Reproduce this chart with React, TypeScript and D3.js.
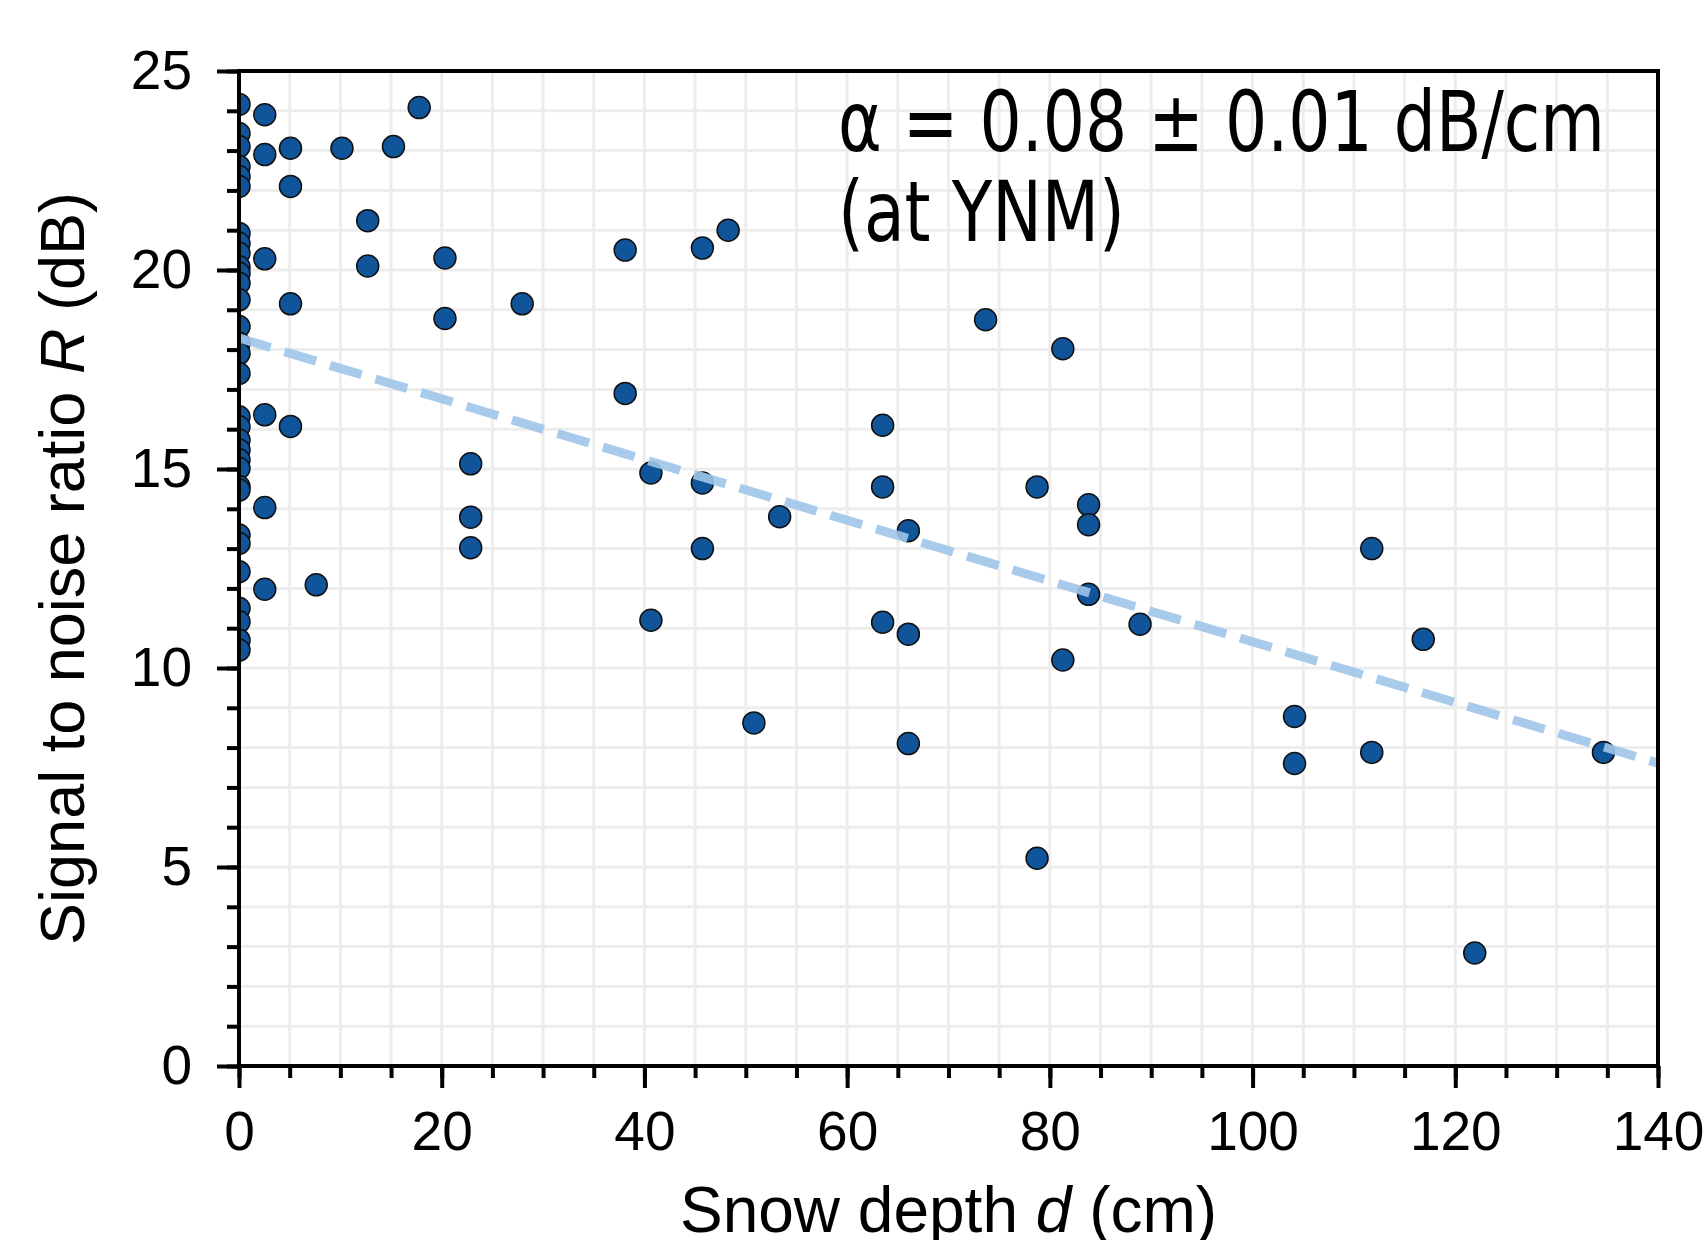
import React, { useRef, useEffect } from 'react';
import * as d3 from 'd3';

const depthCm = [
  0, 0, 0, 0, 0, 0, 0, 0, 0, 0, 0, 0, 0, 0, 0, 0,
  0, 0, 0, 0, 0, 0, 0, 0, 0, 0, 0, 0, 0, 0, 0, 0,
  2.54, 2.54, 2.54, 2.54, 2.54, 2.54,
  5.08, 5.08, 5.08, 5.08,
  7.62, 10.16, 12.7, 12.7, 15.24, 17.78, 20.32, 20.32,
  22.86, 22.86, 22.86, 27.94,
  38.1, 38.1, 40.64, 40.64, 45.72, 45.72, 45.72, 48.26, 50.8, 53.34,
  63.5, 63.5, 63.5, 66.04, 66.04, 66.04, 73.66,
  78.74, 78.74, 81.28, 81.28, 83.82, 83.82, 83.82, 88.9,
  104.14, 104.14, 111.76, 111.76, 116.84, 121.92, 134.62,
];

// signal to noise ratio R (dB), same order as depthCm
const snrDb = [
  24.16, 23.43, 23.1, 22.6, 22.35, 22.1, 20.92, 20.67, 20.42, 20.08, 19.92, 19.67, 19.25, 18.58, 18.16, 17.9,
  17.4, 16.31, 16.06, 15.73, 15.48, 15.23, 15.02, 14.56, 14.47, 13.34, 13.13, 12.42, 11.5, 11.16, 10.7, 10.45,
  23.9, 22.9, 20.28, 16.36, 14.03, 11.98,
  23.06, 22.1, 19.15, 16.07,
  12.09, 23.06, 21.24, 20.1, 23.1, 24.08, 20.3, 18.78,
  15.13, 13.79, 13.02, 19.15,
  20.5, 16.9, 14.9, 11.2, 20.55, 14.65, 13.0, 21.0, 8.62, 13.8,
  16.1, 14.55, 11.15, 13.45, 10.85, 8.1, 18.75,
  14.55, 5.22, 18.02, 10.2, 14.1, 13.6, 11.85, 11.1,
  8.78, 7.6, 13.0, 7.88, 10.72, 2.84, 7.88,
];

const xTicks = [0, 20, 40, 60, 80, 100, 120, 140];
const xMinorTicks = d3.range(0, 141, 5);
const yTicks = [0, 5, 10, 15, 20, 25];
const yMinorTicks = d3.range(0, 26, 1);

// linear fit R = a + b*d
const fitIntercept = 18.29;
const fitSlope = -0.0763;

const noteLines = ['α = 0.08 ± 0.01 dB/cm', '(at YNM)'];

export default function App() {
  const svgRef = useRef<SVGSVGElement | null>(null);

  useEffect(() => {
    const width = 1706;
    const height = 1240;
    const m = { left: 239, right: 48, top: 71, bottom: 174 };
    const tickFont = "'Liberation Sans', Arial, sans-serif";

    const svg = d3.select(svgRef.current)
      .attr('width', width)
      .attr('height', height)
      .attr('viewBox', `0 0 ${width} ${height}`);
    svg.selectAll('*').remove();

    const x = d3.scaleLinear().domain([0, 140]).range([m.left, width - m.right]);
    const y = d3.scaleLinear().domain([0, 25]).range([height - m.bottom, m.top]);

    const [x0, x1] = x.range();
    const [y0, y1] = y.range();

    svg.append('defs').append('clipPath').attr('id', 'plot-clip')
      .append('rect')
      .attr('x', x0).attr('y', y1)
      .attr('width', x1 - x0).attr('height', y0 - y1);

    // grid at every minor tick
    const grid = svg.append('g').attr('stroke', '#ededed').attr('stroke-width', 3);
    grid.selectAll('line.gx').data(xMinorTicks).enter().append('line')
      .attr('x1', d => x(d)).attr('x2', d => x(d))
      .attr('y1', y1).attr('y2', y0);
    grid.selectAll('line.gy').data(yMinorTicks).enter().append('line')
      .attr('x1', x0).attr('x2', x1)
      .attr('y1', d => y(d)).attr('y2', d => y(d));

    // points
    const pts = depthCm.map((d, i) => ({ d, r: snrDb[i] }));
    svg.append('g').attr('clip-path', 'url(#plot-clip)')
      .selectAll('circle').data(pts).enter().append('circle')
      .attr('cx', p => x(p.d))
      .attr('cy', p => y(p.r))
      .attr('r', 11)
      .attr('fill', '#10549a')
      .attr('stroke', '#111')
      .attr('stroke-width', 1.5);

    // fit line
    const fit = [0, 140].map(d => [d, fitIntercept + fitSlope * d] as [number, number]);
    svg.append('g').attr('clip-path', 'url(#plot-clip)')
      .append('path')
      .attr('d', d3.line().x(p => x(p[0])).y(p => y(p[1]))(fit))
      .attr('fill', 'none')
      .attr('stroke', '#9fc5e9')
      .attr('stroke-opacity', 0.9)
      .attr('stroke-width', 9)
      .attr('stroke-dasharray', '33,14.5');

    // axes
    const styleAxis = (g: any) => {
      g.select('.domain').remove();
      g.selectAll('line').attr('stroke', '#000').attr('stroke-width', 4);
      g.selectAll('text').attr('font-family', tickFont).attr('font-size', 55).attr('fill', '#000');
    };

    svg.append('g').attr('transform', `translate(0,${y0})`)
      .call(d3.axisBottom(x).tickValues(xMinorTicks).tickSize(12).tickFormat(() => ''))
      .call(styleAxis);
    svg.append('g').attr('transform', `translate(0,${y0})`)
      .call(d3.axisBottom(x).tickValues(xTicks).tickSize(22).tickPadding(23).tickFormat(d3.format('d')))
      .call(styleAxis);
    svg.append('g').attr('transform', `translate(${x0},0)`)
      .call(d3.axisLeft(y).tickValues(yMinorTicks).tickSize(12).tickFormat(() => ''))
      .call(styleAxis);
    svg.append('g').attr('transform', `translate(${x0},0)`)
      .call(d3.axisLeft(y).tickValues(yTicks).tickSize(22).tickPadding(25).tickFormat(d3.format('d')))
      .call(styleAxis);

    // frame
    svg.append('rect')
      .attr('x', x0).attr('y', y1)
      .attr('width', x1 - x0).attr('height', y0 - y1)
      .attr('fill', 'none').attr('stroke', '#000').attr('stroke-width', 4);

    // axis labels
    const xl = svg.append('text')
      .attr('x', (x0 + x1) / 2).attr('y', 1232)
      .attr('text-anchor', 'middle')
      .attr('font-family', tickFont).attr('font-size', 64);
    xl.append('tspan').text('Snow depth ');
    xl.append('tspan').attr('font-style', 'italic').text('d');
    xl.append('tspan').text(' (cm)');

    const yl = svg.append('text')
      .attr('transform', `translate(84,${(y0 + y1) / 2}) rotate(-90)`)
      .attr('text-anchor', 'middle')
      .attr('font-family', tickFont).attr('font-size', 63);
    yl.append('tspan').text('Signal to noise ratio ');
    yl.append('tspan').attr('font-style', 'italic').text('R');
    yl.append('tspan').text(' (dB)');

    // note (a narrow face, so squeeze it sideways)
    svg.append('g').attr('transform', 'translate(838,0) scale(0.79,1)')
      .selectAll('text').data(noteLines).enter().append('text')
      .attr('x', 0)
      .attr('y', (_, i) => 151 + i * 90)
      .attr('font-family', "'DejaVu Sans', sans-serif")
      .attr('font-size', 84)
      .attr('fill', '#000')
      .text(t => t);
  }, []);

  return (
    <div style={{ position: 'absolute', left: 0, top: 0 }}>
      <svg ref={svgRef} style={{ display: 'block', background: '#fff' }}></svg>
    </div>
  );
}
